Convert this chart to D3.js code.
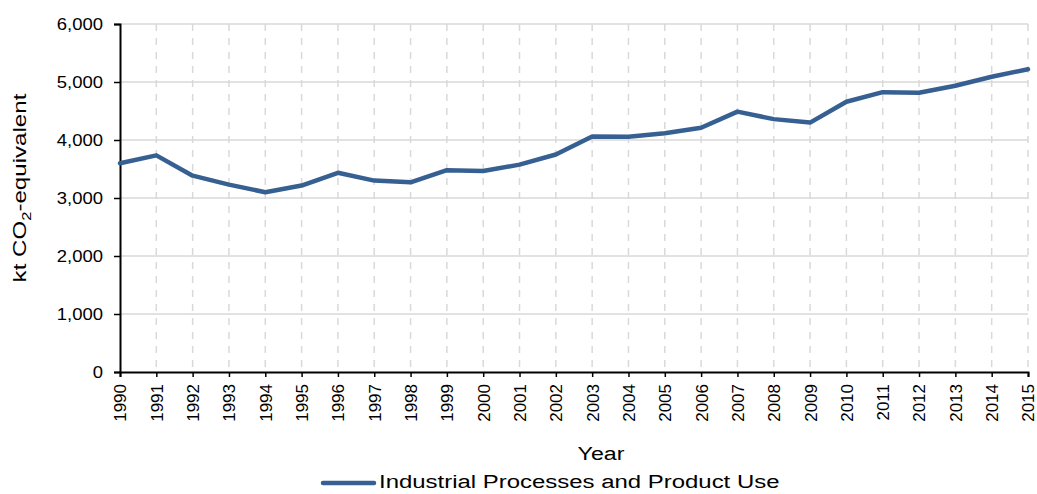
<!DOCTYPE html>
<html>
<head>
<meta charset="utf-8">
<script src="https://cdn.jsdelivr.net/npm/d3@7"></script>
<style>
	body { margin: 0; background: #ffffff; }
	text { font-family: Arial, "Liberation Sans", sans-serif; fill: #000000; }
</style>
</head>
<body>
<div id="chart"></div>
<script>
let years = [1990,1991,1992,1993,1994,1995,1996,1997,1998,1999,2000,2001,2002,2003,2004,2005,2006,2007,2008,2009,2010,2011,2012,2013,2014,2015]
let emissions = [3600,3735,3385,3230,3100,3215,3435,3300,3270,3480,3465,3575,3750,4060,4055,4115,4210,4490,4360,4300,4660,4825,4815,4935,5090,5220]
let yTicks = [0,1000,2000,3000,4000,5000,6000]
let seriesName = 'Industrial Processes and Product Use'

let margin = {top: 24, right: 9, bottom: 122, left: 120},
	width = 1037 - margin.left - margin.right,
	height = 494 - margin.top - margin.bottom

let svg = d3.select('#chart')
	.append('svg')
	.attr('width', 1037)
	.attr('height', 494)

let g = svg.append('g')
	.attr('transform', 'translate(' + margin.left + ',' + margin.top + ')')

let x = d3.scaleLinear()
	.domain([1990, 2015])
	.range([0, width])

let y = d3.scaleLinear()
	.domain([0, 6000])
	.range([height, 0])

// horizontal gridlines
g.selectAll('.hgrid')
	.data(yTicks.slice(1))
	.enter()
	.append('line')
	.attr('x1', 0)
	.attr('x2', width)
	.attr('y1', function(d){ return y(d) })
	.attr('y2', function(d){ return y(d) })
	.attr('stroke', '#d9d9d9')
	.attr('stroke-width', 1.5)

// vertical dashed gridlines
g.selectAll('.vgrid')
	.data(years.slice(1))
	.enter()
	.append('line')
	.attr('x1', function(d){ return x(d) })
	.attr('x2', function(d){ return x(d) })
	.attr('y1', 0)
	.attr('y2', height)
	.attr('stroke', '#d9d9d9')
	.attr('stroke-width', 1.5)
	.attr('stroke-dasharray', '7,7')

// y axis
let yAxis = g.append('g')
	.call(d3.axisLeft(y).tickValues(yTicks).tickSize(6).tickPadding(11).tickFormat(d3.format(',')))
yAxis.select('.domain').attr('stroke', '#000').attr('stroke-width', 2)
yAxis.selectAll('.tick line').attr('stroke', '#000').attr('stroke-width', 1.5)
yAxis.selectAll('text')
	.style('font-size', '16.5px')
	.attr('transform', 'translate(-17,0) scale(1.12,1) translate(17,0)')

// x axis
let xAxis = g.append('g')
	.attr('transform', 'translate(0,' + height + ')')
	.call(d3.axisBottom(x).tickValues(years).tickSize(5).tickFormat(d3.format('d')))
xAxis.select('.domain').attr('stroke', '#000').attr('stroke-width', 2)
xAxis.selectAll('.tick line').attr('stroke', '#000').attr('stroke-width', 1.5)
xAxis.selectAll('text')
	.style('font-size', '17px')
	.attr('transform', 'rotate(-90)')
	.attr('text-anchor', 'end')
	.attr('x', -12)
	.attr('y', 0)
	.attr('dy', '0.35em')

// line
g.append('path')
	.datum(years.map(function(yr, i){ return {x: yr, y: emissions[i]} }))
	.attr('fill', 'none')
	.attr('stroke', '#376092')
	.attr('stroke-width', 4.5)
	.attr('stroke-linejoin', 'round')
	.attr('stroke-linecap', 'round')
	.attr('d', d3.line()
		.x(function(d){ return x(d.x) })
		.y(function(d){ return y(d.y) })
	)

// axis titles
svg.append('text')
	.attr('transform', 'translate(601,460) scale(1.22,1)')
	.attr('text-anchor', 'middle')
	.style('font-size', '19px')
	.text('Year')

let yTitle = svg.append('text')
	.attr('transform', 'translate(26,188) rotate(-90) scale(1.27,1)')
	.attr('text-anchor', 'middle')
	.style('font-size', '19px')
yTitle.append('tspan').text('kt CO')
yTitle.append('tspan').text('2').style('font-size', '13px').attr('dy', 5)
yTitle.append('tspan').text('-equivalent').attr('dy', -5)

// legend
let legend = svg.append('g')
legend.append('text')
	.attr('transform', 'translate(379,488) scale(1.26,1)')
	.style('font-size', '19px')
	.text(seriesName)
legend.append('line')
	.attr('x1', 323)
	.attr('x2', 374)
	.attr('y1', 483)
	.attr('y2', 483)
	.attr('stroke', '#376092')
	.attr('stroke-width', 4.5)
	.attr('stroke-linecap', 'round')
</script>
</body>
</html>
